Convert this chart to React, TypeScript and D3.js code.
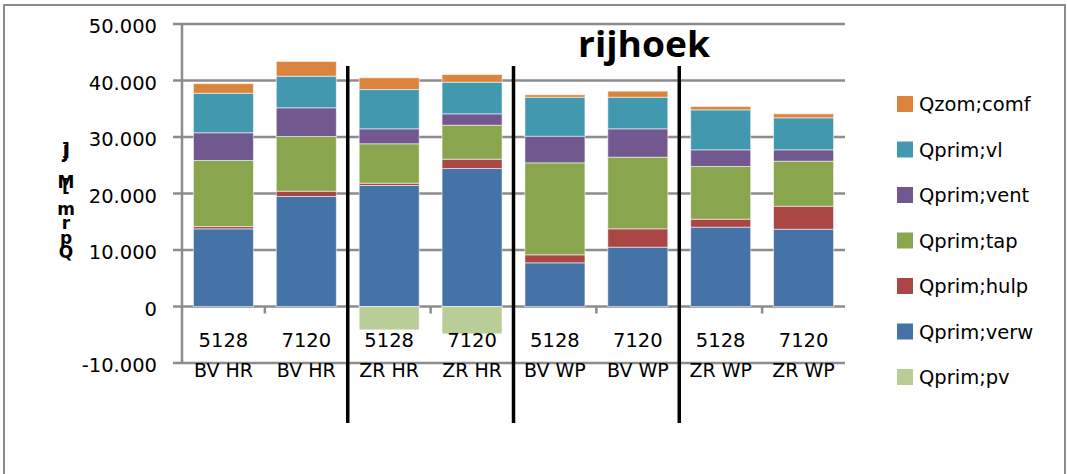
import React from "react";
import * as d3 from "d3";

// category labels (two lines each)
const CODES = ["5128", "7120", "5128", "7120", "5128", "7120", "5128", "7120"];
const GROUPS = ["BV HR", "BV HR", "ZR HR", "ZR HR", "BV WP", "BV WP", "ZR WP", "ZR WP"];

// series values
const Q_PRIM_VERW = [13750, 19470, 21420, 24420, 7730, 10500, 14040, 13680];
const Q_PRIM_HULP = [400, 940, 400, 1650, 1420, 3250, 1410, 4070];
const Q_PRIM_TAP = [11700, 9680, 6980, 6020, 16280, 12680, 9330, 7970];
const Q_PRIM_VENT = [4900, 5080, 2650, 2010, 4710, 5020, 2950, 2010];
const Q_PRIM_VL = [7000, 5590, 6950, 5600, 6900, 5590, 7080, 5670];
const Q_ZOM_COMF = [1700, 2600, 2080, 1360, 430, 1070, 590, 700];
const Q_PRIM_PV = [0, 0, -4130, -4840, 0, 0, 0, 0];

const Y_TICKS = [-10000, 0, 10000, 20000, 30000, 40000, 50000];
const SEPARATORS = [2, 4, 6]; // a black line before these categories
const TITLE = "rijhoek";
const Y_TITLE = "Qprim [MJ]";

const SERIES = [
  { key: "verw", name: "Qprim;verw", color: "#4572A7", values: Q_PRIM_VERW },
  { key: "hulp", name: "Qprim;hulp", color: "#AA4643", values: Q_PRIM_HULP },
  { key: "tap", name: "Qprim;tap", color: "#89A54E", values: Q_PRIM_TAP },
  { key: "vent", name: "Qprim;vent", color: "#71588F", values: Q_PRIM_VENT },
  { key: "vl", name: "Qprim;vl", color: "#4198AF", values: Q_PRIM_VL },
  { key: "comf", name: "Qzom;comf", color: "#DB843D", values: Q_ZOM_COMF },
  { key: "pv", name: "Qprim;pv", color: "#B9CD96", values: Q_PRIM_PV },
];
const LEGEND_ORDER = ["comf", "vl", "vent", "tap", "hulp", "verw", "pv"];

const W = 1067;
const H = 474;
const FONT = "'DejaVu Sans', sans-serif";
const GRID = "#8c8c8c";

const fmt = d3
  .formatLocale({ decimal: ",", thousands: ".", grouping: [3], currency: ["", ""], minus: "-" })
  .format(",");

export default function App() {
  const rows = CODES.map((c, i) => {
    const r: any = { idx: i };
    SERIES.forEach((s) => (r[s.key] = s.values[i]));
    return r;
  });

  const stacked = d3
    .stack()
    .keys(SERIES.map((s) => s.key))
    .offset(d3.stackOffsetDiverging)(rows);

  const x = d3
    .scaleBand<number>()
    .domain(CODES.map((_, i) => i))
    .range([182, 845])
    .paddingInner(0.276)
    .paddingOuter(0.138);

  const y = d3.scaleLinear().domain([-10000, 50000]).range([363, 24]);

  const step = x.step();
  const left = x.range()[0];
  const boundary = (i: number) => left + i * step;

  // Excel draws the vertical title char by char, squeezed together
  const yTitleChars = Y_TITLE.replace(" ", "").replace("i", "").split("");
  const yTitleBase = [258, 244, 229, 215, 192, 188, 158, 156];

  return (
    <svg
      width={W}
      height={H}
      style={{ position: "absolute", left: 0, top: 0, background: "#fff" }}
      fontFamily={FONT}
    >
      <rect x={4} y={5} width={1061} height={H + 10} fill="#fff" stroke={GRID} strokeWidth={2} />

      {/* gridlines + y labels */}
      {Y_TICKS.map((t) => (
        <g key={t}>
          <line x1={173} x2={845} y1={y(t)} y2={y(t)} stroke={GRID} strokeWidth={2.5} />
          <text x={157} y={y(t) + 9} textAnchor="end" fontSize={19.5} fill="#000">
            {fmt(t)}
          </text>
        </g>
      ))}
      <line x1={left} x2={left} y1={y(50000)} y2={y(-10000)} stroke={GRID} strokeWidth={2.5} />

      {/* category ticks every two categories */}
      {[2, 4, 6, 8].map((i) => (
        <line
          key={i}
          x1={boundary(i - 1)}
          x2={boundary(i - 1)}
          y1={y(0)}
          y2={y(0) + 7}
          stroke={GRID}
          strokeWidth={2.5}
        />
      ))}

      {/* bars */}
      {stacked.map((layer, li) => (
        <g key={layer.key} fill={SERIES[li].color}>
          {layer.map((d, i) =>
            d[1] - d[0] === 0 ? null : (
              <rect
                key={i}
                x={x(i)}
                width={x.bandwidth()}
                y={y(Math.max(d[0], d[1]))}
                height={Math.abs(y(d[0]) - y(d[1]))}
                stroke="rgba(255,255,255,0.55)"
                strokeWidth={1}
              />
            ),
          )}
        </g>
      ))}

      {/* category labels */}
      {CODES.map((c, i) => (
        <g key={i}>
          <text x={x(i)! + x.bandwidth() / 2} y={347} textAnchor="middle" fontSize={19.5}>
            {c}
          </text>
          <text x={x(i)! + x.bandwidth() / 2} y={377} textAnchor="middle" fontSize={19}>
            {GROUPS[i]}
          </text>
        </g>
      ))}

      {/* separator lines */}
      {SEPARATORS.map((i) => (
        <line
          key={i}
          x1={boundary(i)}
          x2={boundary(i)}
          y1={66}
          y2={423}
          stroke="#000"
          strokeWidth={3.5}
        />
      ))}

      {/* title */}
      <text
        x={578}
        y={57}
        fontSize={36}
        fontWeight="bold"
        fontFamily="'Open Sans', sans-serif"
        textLength={132}
        lengthAdjust="spacingAndGlyphs"
      >
        {TITLE}
      </text>

      {/* y axis title */}
      {yTitleChars.map((ch, i) => (
        <text
          key={i}
          x={66}
          y={yTitleBase[i]}
          textAnchor="middle"
          fontSize={17}
          fontWeight="bold"
        >
          {ch}
        </text>
      ))}

      {/* legend */}
      {LEGEND_ORDER.map((k, i) => {
        const s = SERIES.find((d) => d.key === k)!;
        const cy = 104 + i * 45.5;
        return (
          <g key={k}>
            <rect x={897} y={cy - 8} width={16} height={16} fill={s.color} />
            <text x={919} y={cy + 7} fontSize={19.5}>
              {s.name}
            </text>
          </g>
        );
      })}
    </svg>
  );
}
